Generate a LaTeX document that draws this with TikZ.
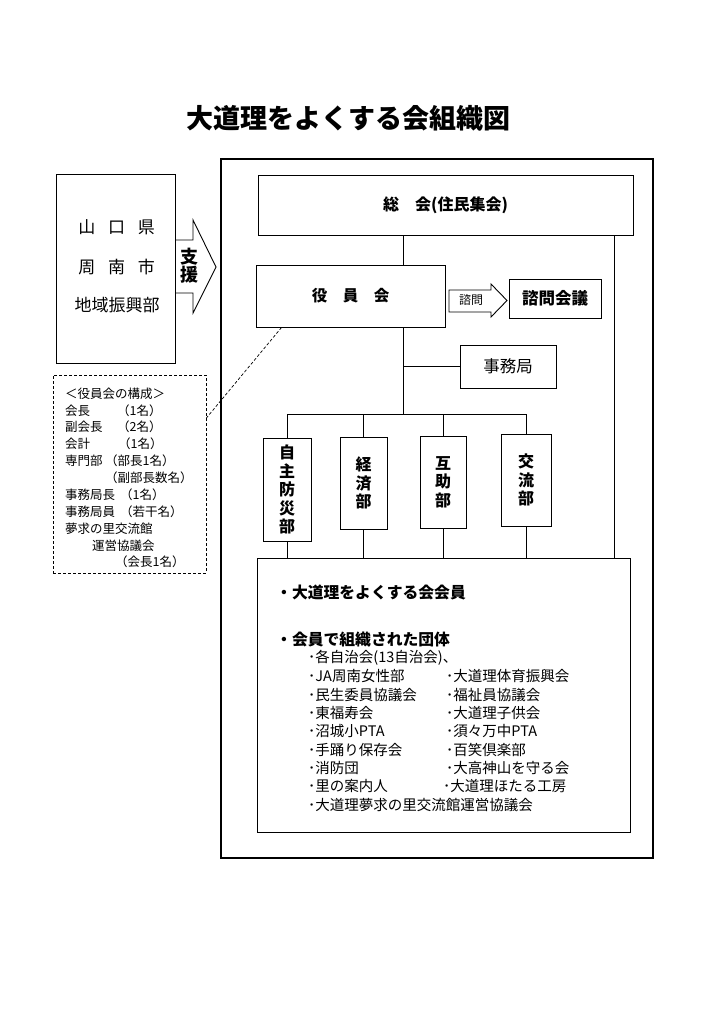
\documentclass[tikz,border=0pt]{standalone}
\usepackage{fontspec}
\setmainfont{Noto Sans CJK JP}
\usetikzlibrary{calc}
\newcommand\jfs[1]{\fontsize{#1}{#1}\selectfont}
\tikzset{
  box/.style={draw, line width=0.9pt, inner sep=0pt},
  conn/.style={line width=0.6pt},
  jtxt/.style={inner sep=0pt, text height=0.88em, text depth=0.12em},
  vtxt/.style={box, align=center, font=\fontsize{16}{18.5}\selectfont\bfseries},
  small/.style={jtxt, anchor=west, font=\jfs{12.5}},
  item/.style={jtxt, anchor=west, font=\jfs{14.5}},
  head/.style={jtxt, anchor=west, font=\jfs{15.8}\bfseries},
}
\begin{document}
\begin{tikzpicture}[x=1pt,y=-1pt]
\useasboundingbox (0,0) rectangle (724,1024);

% title
\node[jtxt, font=\jfs{27}\bfseries] (title) at (348.5,125) {大道理をよくする会組織図};

% outer frame
\node[draw, line width=1.4pt, minimum width=432pt, minimum height=699pt, inner sep=0pt] (outer) at (437,508.5) {};

% left box
\node[box, minimum width=119pt, minimum height=189pt] (pref) at (115.5,268.5) {};
\node[jtxt, font=\jfs{17}] (p1) at (116.5,230) {山\hspace{0.75em}口\hspace{0.75em}県};
\node[jtxt, font=\jfs{17}] (p2) at (116.5,270) {周\hspace{0.75em}南\hspace{0.75em}市};
\node[jtxt, font=\jfs{17}] (p3) at (117,308) {地域振興部};

% support arrow
\draw[line width=0.9pt] (175,240) -- (193,240) -- (193,220) -- (216,267) -- (193,313) -- (193,293) -- (175,293);
\node[inner sep=0pt, align=center, font=\fontsize{18}{18}\selectfont\bfseries] (shien) at (189,266) {支\\援};

% composition (dashed) box
\node[draw, dash pattern=on 3pt off 2pt, line width=0.8pt, minimum width=153pt, minimum height=198pt, inner sep=0pt] (comp) at (129.5,474) {};
\node[small] (c1) at (65,395) {＜役員会の構成＞};
\node[small] (c2a) at (65,412) {会長};
\node[small] (c2b) at (117,412) {（1名）};
\node[small] (c3a) at (65,428) {副会長};
\node[small] (c3b) at (117,428) {（2名）};
\node[small] (c4a) at (65,445) {会計};
\node[small] (c4b) at (118,445) {（1名）};
\node[small] (c5a) at (65,462) {専門部};
\node[small] (c5b) at (105,462) {（部長1名）};
\node[small] (c6) at (105,479) {（副部長数名）};
\node[small] (c7a) at (65,496) {事務局長};
\node[small] (c7b) at (120,496) {（1名）};
\node[small] (c8a) at (65,513) {事務局員};
\node[small] (c8b) at (120,513) {（若干名）};
\node[small] (c9) at (65,530) {夢求の里交流館};
\node[small] (c10) at (92,547) {運営協議会};
\node[small] (c11) at (115,563) {（会長1名）};

% main boxes
\node[box, minimum width=375pt, minimum height=60pt, font=\jfs{16}\bfseries] (soukai) at (445.5,205) {総　会(住民集会)};
\node[box, minimum width=189pt, minimum height=62pt, font=\jfs{15.5}\bfseries] (yakuin) at (350.5,296) {役　員　会};
\node[box, minimum width=92pt, minimum height=39pt, font=\jfs{16.5}\bfseries] (shimonk) at (555,298.5) {諮問会議};
\node[box, minimum width=96pt, minimum height=43pt, font=\jfs{16.5}] (jimu) at (508,366.5) {事務局};

% consultation arrow
\draw[line width=0.9pt] (449,290) -- (491,290) -- (491,284) -- (507,300.5) -- (491,317) -- (491,312) -- (449,312) -- cycle;
\node[jtxt, font=\jfs{12}] (shimon) at (471,301) {諮問};

% departments
\node[vtxt, minimum width=48pt, minimum height=103pt] (b1) at (287,489.5) {自\\主\\防\\災\\部};
\node[vtxt, minimum width=47pt, minimum height=92pt] (b2) at (363.5,483) {経\\済\\部};
\node[vtxt, minimum width=46pt, minimum height=92pt] (b3) at (443,482) {互\\助\\部};
\node[vtxt, minimum width=50pt, minimum height=92pt] (b4) at (526,480) {交\\流\\部};

% members box
\node[box, minimum width=373pt, minimum height=274pt] (members) at (443.5,695) {};

% connectors
\coordinate (t) at (403,414);
\coordinate (r) at (614,0);
\draw[conn] (soukai.south -| t) -- (yakuin.north -| t);
\draw[conn] (yakuin.south -| t) -- (t);
\draw[conn] (jimu.west) -- (jimu.west -| t);
\draw[conn] (b1.north |- t) -- (b4.north |- t);
\foreach \b in {b1,b2,b3,b4} {
  \draw[conn] (\b.north) -- (\b.north |- t);
  \draw[conn] (\b.south) -- (\b.south |- members.north);
}
\draw[conn] (soukai.south -| r) -- (members.north -| r);
\draw[dash pattern=on 3pt off 2pt, line width=0.7pt] ($(yakuin.south west)+(26,0)$) -- ($(comp.east)+(0,-56)$);

% members text
\node[head] (m1) at (276,595) {・大道理をよくする会会員};
\node[head] (m2) at (276,642) {・会員で組織された団体};
\node[item] (i1) at (308,659) {･各自治会(13自治会)、};
\node[item] (i2) at (308,678) {･JA周南女性部};
\node[item] (j2) at (446,678) {･大道理体育振興会};
\node[item] (i3) at (308,697) {･民生委員協議会};
\node[item] (j3) at (446,697) {･福祉員協議会};
\node[item] (i4) at (308,715) {･東福寿会};
\node[item] (j4) at (446,715) {･大道理子供会};
\node[item] (i5) at (308,733) {･沼城小PTA};
\node[item] (j5) at (446,733) {･須々万中PTA};
\node[item] (i6) at (308,752) {･手踊り保存会};
\node[item] (j6) at (446,752) {･百笑倶楽部};
\node[item] (i7) at (308,770) {･消防団};
\node[item] (j7) at (446,770) {･大高神山を守る会};
\node[item] (i8) at (308,788) {･里の案内人};
\node[item] (j8) at (443,788) {･大道理ほたる工房};
\node[item] (i9) at (308,807) {･大道理夢求の里交流館運営協議会};

\end{tikzpicture}
\end{document}
